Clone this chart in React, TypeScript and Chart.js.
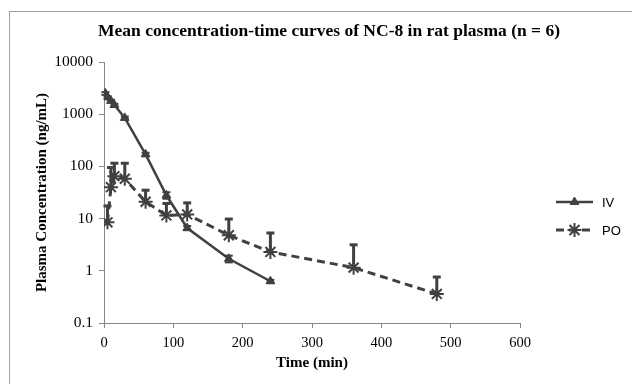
import React, { useEffect, useRef } from 'react';
import { Chart, registerables } from 'chart.js';
import { drawPoint } from 'chart.js/helpers';

Chart.register(...registerables);

// ---- data ----
const ivTime = [2, 5, 10, 15, 30, 60, 90, 120, 180, 240];
const ivConc = [2500, 2100, 1800, 1500, 850, 170, 28, 6.6, 1.7, 0.63];
const ivErr = [150, 120, 100, 80, 50, 12, 4, 0.6, 0.25, 0.04];

const poTime = [5, 10, 15, 30, 60, 90, 120, 180, 240, 360, 480];
const poConc = [8.5, 40, 65, 58, 21, 11.5, 12, 4.8, 2.3, 1.15, 0.36];
const poErrUp = [9, 55, 50, 57, 14, 8, 8, 5, 3, 2, 0.4];

const yTickValues = [0.1, 1, 10, 100, 1000, 10000];
const xTickValues = [0, 100, 200, 300, 400, 500, 600];

const seriesNames = ['IV', 'PO'];
const chartTitle = 'Mean concentration-time curves of NC-8 in rat plasma (n = 6)';
const xTitle = 'Time (min)';
const yTitle = 'Plasma Concentration (ng/mL)';

const DARK = '#404040';
const AXIS = '#868686';
const SERIF = "'Liberation Serif', 'Times New Roman', serif";

const errorBars: Record<number, { up: number[]; down?: number[] }> = {
  0: { up: ivErr, down: ivErr },
  1: { up: poErrUp },
};

const errorBarPlugin = {
  id: 'errorBars',
  afterDatasetsDraw(chart: any) {
    const ctx = chart.ctx;
    const ys = chart.scales.y;
    const xs = chart.scales.x;
    ctx.save();
    ctx.strokeStyle = DARK;
    ctx.setLineDash([]);
    Object.keys(errorBars).forEach((k) => {
      const i = Number(k);
      const ds = chart.data.datasets[i];
      const eb = errorBars[i];
      ds.data.forEach((p: any, j: number) => {
        const x = xs.getPixelForValue(p.x);
        const y = ys.getPixelForValue(p.y);
        const lw = i === 1 ? 3 : 2;
        ctx.lineWidth = lw;
        const yUp = ys.getPixelForValue(p.y + eb.up[j]);
        ctx.beginPath();
        ctx.moveTo(x, y);
        ctx.lineTo(x, yUp);
        ctx.stroke();
        ctx.beginPath();
        ctx.moveTo(x - 4, yUp);
        ctx.lineTo(x + 4, yUp);
        ctx.stroke();
        if (eb.down) {
          const v = Math.max(p.y - eb.down[j], 0.0001);
          const yDn = ys.getPixelForValue(v);
          ctx.beginPath();
          ctx.moveTo(x, y);
          ctx.lineTo(x, yDn);
          ctx.stroke();
          ctx.beginPath();
          ctx.moveTo(x - 4, yDn);
          ctx.lineTo(x + 4, yDn);
          ctx.stroke();
        }
      });
    });
    ctx.restore();
  },
};

const titlePlugin = {
  id: 'customTitle',
  afterDraw(chart: any) {
    const ctx = chart.ctx;
    ctx.save();
    ctx.fillStyle = '#000';
    ctx.font = `bold 17.5px ${SERIF}`;
    ctx.textAlign = 'center';
    ctx.textBaseline = 'middle';
    ctx.fillText(chartTitle, 320, 20);
    ctx.restore();
  },
};

const legendPlugin = {
  id: 'customLegend',
  afterDraw(chart: any) {
    const ctx = chart.ctx;
    const x1 = 547;
    const x2 = 584;
    const ys = [191, 219];
    chart.data.datasets.forEach((ds: any, i: number) => {
      const y = ys[i];
      ctx.save();
      ctx.strokeStyle = ds.borderColor;
      ctx.lineWidth = ds.borderWidth;
      ctx.setLineDash(ds.borderDash || []);
      ctx.beginPath();
      ctx.moveTo(x1, y);
      ctx.lineTo(x2, y);
      ctx.stroke();
      ctx.setLineDash([]);
      ctx.fillStyle = ds.pointBackgroundColor;
      ctx.strokeStyle = ds.pointBorderColor;
      ctx.lineWidth = ds.pointBorderWidth;
      drawPoint(ctx, { pointStyle: ds.pointStyle, radius: ds.pointRadius, rotation: 0, borderWidth: ds.pointBorderWidth }, (x1 + x2) / 2, y);
      ctx.fillStyle = '#000';
      ctx.font = "13px 'Liberation Sans', Arial, sans-serif";
      ctx.textBaseline = 'middle';
      ctx.textAlign = 'left';
      ctx.fillText(ds.label, x2 + 9, y + 1);
      ctx.restore();
    });
  },
};

export default function App() {
  const ref = useRef<HTMLCanvasElement>(null);
  useEffect(() => {
    if (!ref.current) return;
    const chart = new Chart(ref.current, {
      type: 'line',
      data: {
        datasets: [
          {
            label: seriesNames[0],
            data: ivTime.map((t, i) => ({ x: t, y: ivConc[i] })),
            borderColor: DARK,
            backgroundColor: DARK,
            borderWidth: 2.5,
            pointStyle: 'triangle',
            pointRadius: 5,
            pointBackgroundColor: DARK,
            pointBorderColor: DARK,
            pointBorderWidth: 1,
            tension: 0,
          },
          {
            label: seriesNames[1],
            data: poTime.map((t, i) => ({ x: t, y: poConc[i] })),
            borderColor: DARK,
            backgroundColor: DARK,
            borderWidth: 3,
            borderDash: [8, 5],
            pointStyle: 'star',
            pointRadius: 7,
            pointBackgroundColor: DARK,
            pointBorderColor: DARK,
            pointBorderWidth: 2,
            tension: 0,
          },
        ],
      },
      options: {
        animation: false,
        responsive: false,
        layout: { padding: { left: 0, right: 129, top: 51, bottom: 8 } },
        plugins: {
          legend: { display: false },
          tooltip: { enabled: false },
          title: { display: false },
        },
        scales: {
          x: {
            type: 'linear',
            min: 0,
            max: 600,
            afterBuildTicks: (s: any) => {
              s.ticks = xTickValues.map((v) => ({ value: v }));
            },
            afterFit: (s: any) => {
              s.height = 53;
            },
            ticks: { color: '#000', font: { family: SERIF, size: 14.5 }, padding: 6, maxRotation: 0 },
            grid: { display: true, drawOnChartArea: false, drawTicks: true, tickLength: 5, color: AXIS },
            border: { display: true, color: AXIS, width: 1 },
            title: {
              display: true,
              text: xTitle,
              color: '#000',
              font: { family: SERIF, size: 15, weight: 'bold' },
              padding: { top: 0, bottom: 4 },
            },
          },
          y: {
            type: 'logarithmic',
            min: 0.1,
            max: 10000,
            afterBuildTicks: (s: any) => {
              s.ticks = yTickValues.map((v) => ({ value: v }));
            },
            afterFit: (s: any) => {
              s.width = 95;
            },
            ticks: {
              color: '#000',
              font: { family: SERIF, size: 15.5 },
              padding: 6,
              callback: (v: any) => String(v),
            },
            grid: { display: true, drawOnChartArea: false, drawTicks: true, tickLength: 5, color: AXIS },
            border: { display: true, color: AXIS, width: 1 },
            title: {
              display: true,
              text: yTitle,
              color: '#000',
              font: { family: SERIF, size: 15, weight: 'bold' },
              padding: { top: 24, bottom: 0 },
            },
          },
        },
      },
      plugins: [errorBarPlugin, titlePlugin, legendPlugin],
    });
    return () => chart.destroy();
  }, []);

  return (
    <div style={{ position: 'fixed', left: 0, top: 0, width: 632, height: 384, overflow: 'hidden', background: '#fff' }}>
      <div
        style={{
          position: 'absolute',
          left: 9,
          top: 11,
          width: 700,
          height: 500,
          border: '1px solid #a0a0a0',
          boxSizing: 'border-box',
        }}
      />
      <canvas ref={ref} width={640} height={373} style={{ position: 'absolute', left: 9, top: 11, width: 640, height: 373 }} />
    </div>
  );
}
